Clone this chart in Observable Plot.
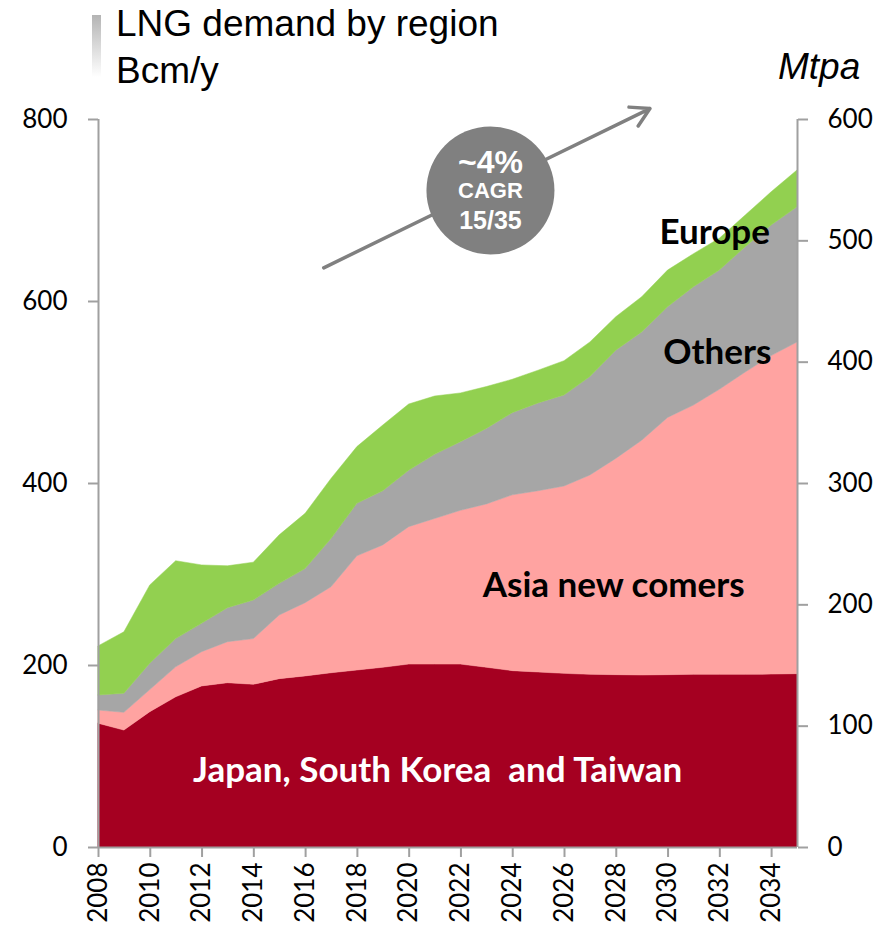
<!DOCTYPE html>
<html>
<head>
<meta charset="utf-8">
<script src="https://cdn.jsdelivr.net/npm/d3@7"></script>
<script src="https://cdn.jsdelivr.net/npm/@observablehq/plot@0.6"></script>
<style>
  body { margin: 0; background: white; }
  #wrap { position: relative; width: 889px; height: 933px; overflow: hidden; }
  #wrap svg { position: absolute; left: 0; top: 0; }
  .title { position: absolute; font-family: "Liberation Sans", Arial, sans-serif; font-size: 37px; color: #000; white-space: nowrap; line-height: 1; }
  #bar { position: absolute; left: 92px; top: 15px; width: 9px; height: 62px; background: linear-gradient(#b4b4b4, #ffffff); }
</style>
</head>
<body>
<div id="wrap">
  <div id="bar"></div>
  <div class="title" style="left:116px; top:5px;">LNG demand by region</div>
  <div class="title" style="left:116px; top:52px;">Bcm/y</div>
  <div class="title" style="left:778px; top:48px; font-style:italic; font-size:37px;">Mtpa</div>
</div>
<script>
// ---- data (Bcm/y) ----
const years = [2008,2009,2010,2011,2012,2013,2014,2015,2016,2017,2018,2019,2020,2021,2022,2023,2024,2025,2026,2027,2028,2029,2030,2031,2032,2033,2034,2035];
const japanKoreaTaiwan = [136,128.5,148.7,165,177,180.5,178.8,185,188,191.5,194.5,197.5,201,201,201,197.5,193.8,192.3,190.8,189.7,189.4,189,189.4,189.7,189.7,189.7,190,190.5];
const asiaNewComers = [14.5,19.5,24.3,33,37.6,45.1,50.2,70,80.5,94.5,125.5,134.5,151,160,169,179.5,193.2,199.2,205.9,219.1,237.6,258,282.6,296,313.3,332.3,350,364.5];
const others = [16.5,21,29,31,31.2,37.4,42.4,34.7,37.5,53,57.7,59.5,62,70.5,75.4,83,90.3,96.5,100,108.2,119,119,121.7,130,131,137.7,143.5,148.6];
const europe = [54,67.5,86,85.6,64.2,46,41.6,53.3,60.7,66,62.3,72.2,72.8,64.1,53.6,46,36.7,36,37.7,38,36.7,38.7,40.3,36.3,35,34.8,36.5,40.4];

const regions = ["Japan, South Korea  and Taiwan", "Asia new comers", "Others", "Europe"];
const regionColors = ["#a50021", "#ffa3a1", "#a6a6a6", "#92d050"];
const seriesValues = [japanKoreaTaiwan, asiaNewComers, others, europe];

// tick labels
const xTicks = [2008,2010,2012,2014,2016,2018,2020,2022,2024,2026,2028,2030,2032,2034];
const bcmTicks = [0,200,400,600,800];
const mtpaTicks = [0,100,200,300,400,500,600];
const mtpaPerBcm = 0.75;

// area labels (year, Bcm value at label centre)
const labelText = ["Japan, South Korea  and Taiwan", "Asia new comers", "Others", "Europe"];
const labelYear = [2021.1, 2027.9, 2031.9, 2031.8];
const labelValue = [84, 288, 544, 676];
const labelColor = ["#ffffff", "#000000", "#000000", "#000000"];

// CAGR annotation
const cagrLines = ["~4%", "CAGR", "15/35"];
const cagrYear = 2023.14;
const cagrValues = [752, 721, 689];
const cagrSizes = [32, 22, 25];
const arrowFrom = {year: 2016.7, value: 637};
const arrowTo = {year: 2029.3, value: 812};

const data = [];
regions.forEach((r, i) => years.forEach((y, j) => data.push({region: r, year: y, value: seriesValues[i][j]})));

const labels = labelText.map((t, i) => ({text: t, year: labelYear[i], value: labelValue[i], color: labelColor[i]}));
const cagr = cagrLines.map((t, i) => ({text: t, year: cagrYear, value: cagrValues[i], size: cagrSizes[i]}));

const axisGray = "#a0a0a0";

const chart = Plot.plot({
  width: 889,
  height: 933,
  marginTop: 119,
  marginBottom: 86,
  marginLeft: 98,
  marginRight: 92,
  style: {fontFamily: "Lato, sans-serif", fontSize: "26px", color: "#000", background: "white"},
  x: {domain: [2008, 2035]},
  y: {domain: [0, 800]},
  color: {domain: regions, range: regionColors},
  marks: [
    Plot.areaY(data, {x: "year", y: "value", fill: "region", stroke: "region", strokeWidth: 0.5, curve: "linear"}),
    Plot.ruleX([2008, 2035], {stroke: axisGray, strokeWidth: 2}),
    Plot.ruleY([0], {stroke: axisGray, strokeWidth: 2}),
    Plot.axisY(bcmTicks, {anchor: "left", tickSize: 10, tickPadding: 21, stroke: axisGray, strokeWidth: 2, label: null, tickFormat: d => String(d)}),
    Plot.axisY(mtpaTicks.map(v => v / mtpaPerBcm), {anchor: "right", tickSize: 10, tickPadding: 20, stroke: axisGray, strokeWidth: 2, label: null, tickFormat: d => String(Math.round(d * mtpaPerBcm))}),
    Plot.axisX(xTicks, {anchor: "bottom", tickSize: 10, tickPadding: 5, tickRotate: -90, stroke: axisGray, strokeWidth: 2, label: null, tickFormat: d => String(d)}),
    Plot.text(labels, {x: "year", y: "value", text: "text", fill: "color", fontWeight: "bold", fontSize: 35, fontFamily: "Lato, sans-serif"}),
    Plot.arrow([0], {x1: arrowFrom.year, y1: arrowFrom.value, x2: arrowTo.year, y2: arrowTo.value, stroke: "#808080", strokeWidth: 3.5, headLength: 9, clip: false}),
    Plot.dot([0], {x: cagrYear, y: 722, r: 64, fill: "#808080"}),
    Plot.text(cagr, {x: "year", y: "value", text: "text", fill: "white", fontWeight: "bold", fontSize: "size", fontFamily: "Liberation Sans, Arial, sans-serif"})
  ]
});
document.getElementById("wrap").prepend(chart);
</script>
</body>
</html>
